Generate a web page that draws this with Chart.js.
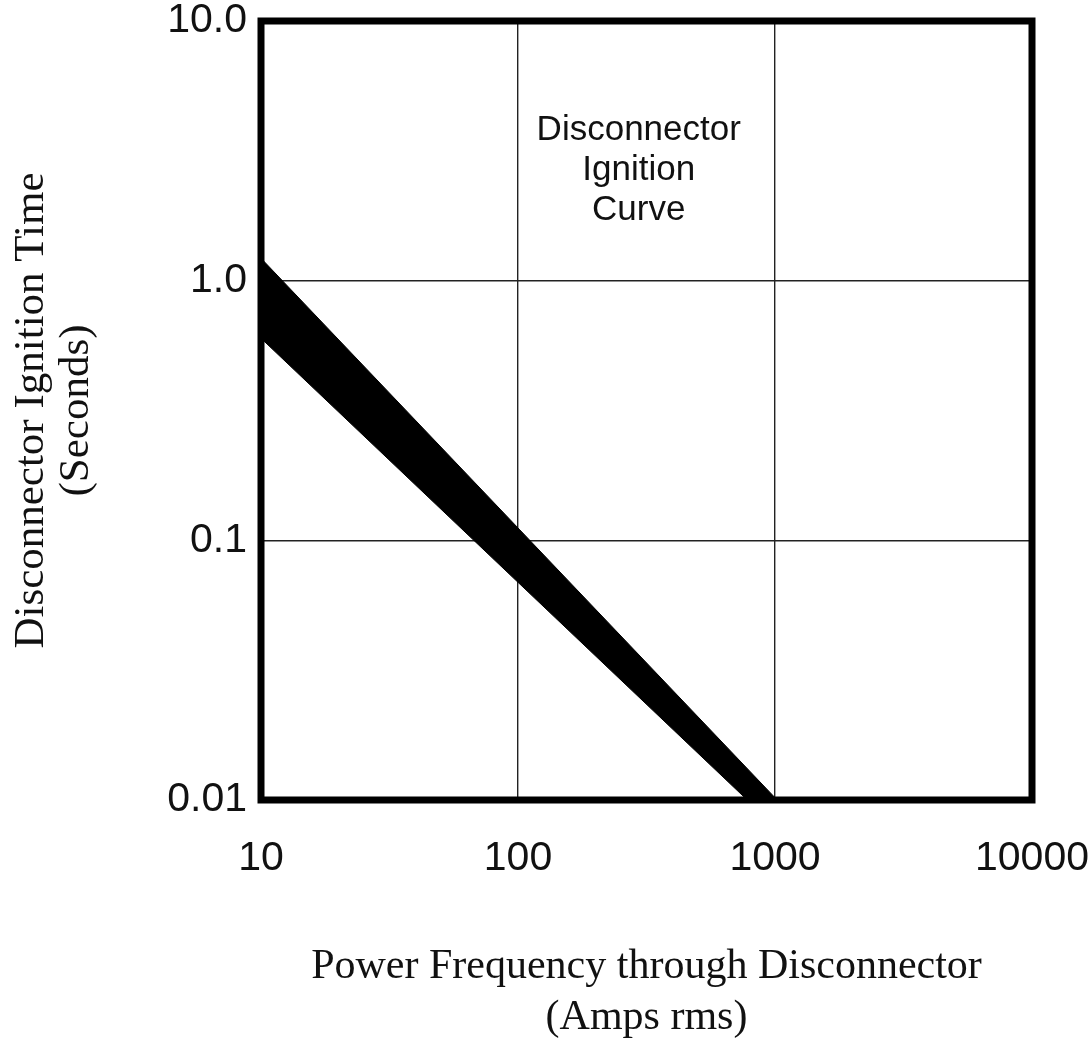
<!DOCTYPE html>
<html>
<head>
<meta charset="utf-8">
<script src="https://cdn.jsdelivr.net/npm/chart.js@4.4.1/dist/chart.umd.min.js"></script>
<style>
  html, body { margin: 0; padding: 0; background: #fff; }
  #wrap { width: 1091px; height: 1044px; }
</style>
</head>
<body>
<div id="wrap"><canvas id="chart-ignition"></canvas></div>
<script>
/* ---- Data ---- */
var xTicks = [10, 100, 1000, 10000];
var xTickLabels = ['10', '100', '1000', '10000'];
var yTicks = [0.01, 0.1, 1, 10];
var yTickLabels = ['0.01', '0.1', '1.0', '10.0'];

// upper edge of the ignition band
var upperX = [10, 1020];
var upperY = [1.22, 0.01];
// lower edge of the ignition band (runs along the floor to close it)
var lowerX = [10, 780, 1020];
var lowerY = [0.6, 0.01, 0.01];

var noteLines = ['Disconnector', 'Ignition', 'Curve'];
var noteX = 295;
var noteY = 2.65;

function toPoints(xs, ys) {
  return xs.map(function (x, i) { return { x: x, y: ys[i] }; });
}

var sansFont = "'Liberation Sans', Arial, Helvetica, sans-serif";
var serifFont = "'Liberation Serif', 'Times New Roman', Times, serif";

/* Thick frame and the in-plot note */
var framePlugin = {
  id: 'frame',
  afterDatasetsDraw: function (chart) {
    var ctx = chart.ctx, a = chart.chartArea;
    var xs = chart.scales.x, ys = chart.scales.y;
    ctx.save();
    ctx.strokeStyle = '#000';
    ctx.lineWidth = 7;
    ctx.strokeRect(a.left, a.top, a.right - a.left, a.bottom - a.top);

    ctx.fillStyle = '#111';
    ctx.font = '35px ' + sansFont;
    ctx.textAlign = 'center';
    ctx.textBaseline = 'middle';
    var cx = xs.getPixelForValue(noteX);
    var cy = ys.getPixelForValue(noteY);
    noteLines.forEach(function (t, i) {
      ctx.fillText(t, cx, cy + (i - 1) * 40);
    });
    ctx.restore();
  }
};

new Chart(document.getElementById('chart-ignition'), {
  type: 'line',
  data: {
    datasets: [
      {
        label: 'upper',
        data: toPoints(upperX, upperY),
        borderColor: '#000',
        borderWidth: 1,
        pointRadius: 0,
        fill: false
      },
      {
        label: 'lower',
        data: toPoints(lowerX, lowerY),
        borderColor: '#000',
        backgroundColor: '#000',
        borderWidth: 1,
        pointRadius: 0,
        fill: '-1'
      }
    ]
  },
  options: {
    responsive: true,
    maintainAspectRatio: false,
    animation: false,
    layout: { padding: { top: 21, right: 59, left: 0, bottom: 0 } },
    plugins: {
      legend: { display: false },
      tooltip: { enabled: false }
    },
    scales: {
      x: {
        type: 'logarithmic',
        min: 10,
        max: 10000,
        afterBuildTicks: function (s) { s.ticks = xTicks.map(function (v) { return { value: v }; }); },
        afterFit: function (s) { s.height = 244; s.paddingLeft = 0; s.paddingRight = 0; },
        border: { display: false },
        grid: { color: '#222', lineWidth: 1.4, drawTicks: false },
        ticks: {
          padding: 34,
          color: '#111',
          maxRotation: 0,
          autoSkip: false,
          font: { family: sansFont, size: 41 },
          callback: function (v) { return xTickLabels[xTicks.indexOf(v)]; }
        },
        title: {
          display: true,
          text: ['Power Frequency through Disconnector', '(Amps rms)'],
          color: '#111',
          font: { family: serifFont, size: 42, lineHeight: 1.22 },
          padding: { top: 0, bottom: 0 }
        }
      },
      y: {
        type: 'logarithmic',
        min: 0.01,
        max: 10,
        afterBuildTicks: function (s) { s.ticks = yTicks.map(function (v) { return { value: v }; }); },
        afterFit: function (s) { s.width = 261; s.paddingTop = 0; s.paddingBottom = 0; },
        border: { display: false },
        grid: { color: '#222', lineWidth: 1.4, drawTicks: false },
        ticks: {
          padding: 14,
          color: '#111',
          autoSkip: false,
          font: { family: sansFont, size: 41 },
          callback: function (v) { return yTickLabels[yTicks.indexOf(v)]; }
        },
        title: {
          display: true,
          text: ['Disconnector Ignition Time', '(Seconds)'],
          color: '#111',
          font: { family: serifFont, size: 43, lineHeight: 1.05 },
          padding: { top: 9, bottom: 0 }
        }
      }
    }
  },
  plugins: [framePlugin]
});
</script>
</body>
</html>
